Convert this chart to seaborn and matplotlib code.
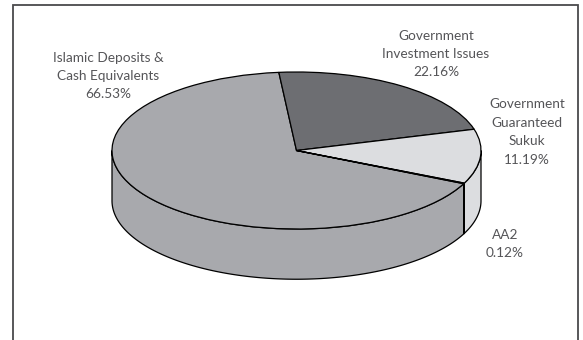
import numpy as np
import matplotlib
matplotlib.use("Agg")
import matplotlib.pyplot as plt
import seaborn as sns

# Portfolio composition
categories = [
    "Islamic Deposits &\nCash Equivalents",
    "Government\nInvestment Issues",
    "Government\nGuaranteed\nSukuk",
    "AA2",
]
shares = [66.53, 22.16, 11.19, 0.12]
face_colors = ["#a8a9ad", "#6d6e72", "#dcdde0", "#dcdde0"]

sns.set_theme(style="white")
plt.rcParams["font.family"] = ["Lato", "DejaVu Sans"]

W, H = 583, 340
fig = plt.figure(figsize=(W / 100, H / 100), dpi=100)
ax = fig.add_axes([0, 0, 1, 1])

# top face of the disc
wedges, _ = ax.pie(
    shares,
    colors=face_colors,
    startangle=335,
    counterclock=False,
    radius=1.0,
    wedgeprops=dict(edgecolor="black", linewidth=0.9, zorder=3),
)

# side wall of the disc (only the front half is visible)
depth = 0.64
for w, col in zip(wedges, face_colors):
    t1, t2 = sorted((w.theta1, w.theta2))
    for lo, hi in ((t1, t2), (t1 + 360, t2 + 360), (t1 - 360, t2 - 360)):
        a0, a1 = max(lo, 180), min(hi, 360)
        if a1 <= a0:
            continue
        th = np.radians(np.linspace(a0, a1, 200))
        xs = np.concatenate([np.cos(th), np.cos(th[::-1])])
        ys = np.concatenate([np.sin(th), np.sin(th[::-1]) - depth])
        ax.fill(xs, ys, facecolor=col, edgecolor="black", linewidth=0.9, zorder=2)

# squash the disc into a tilted ellipse
cx, cy, rx, ry = 296.5, 150.5, 184.5, 78.5
ax.set_aspect("auto")
ax.set_xlim(-cx / rx, (W - cx) / rx)
ax.set_ylim((cy - H) / ry, cy / ry)
ax.axis("off")

labels = [
    (108, 76, f"{categories[0]}\n{shares[0]:.2f}%"),
    (436, 54, f"{categories[1]}\n{shares[1]:.2f}%"),
    (527, 132, f"{categories[2]}\n{shares[2]:.2f}%"),
    (505, 244, f"{categories[3]}\n{shares[3]:.2f}%"),
]
for x, y, s in labels:
    fig.text(x / W, 1 - y / H, s, ha="center", va="center",
             fontsize=9.8, color="#555558", linespacing=1.65)

# open frame around the chart
frame = plt.Rectangle((12.5 / W, -0.2), (578 - 12.5) / W, 1.2 - 5 / H,
                      transform=fig.transFigure, fill=False,
                      edgecolor="#4a4a4c", linewidth=1.3, clip_on=False)
fig.add_artist(frame)

fig.savefig("out.png", dpi=100, facecolor="white")
